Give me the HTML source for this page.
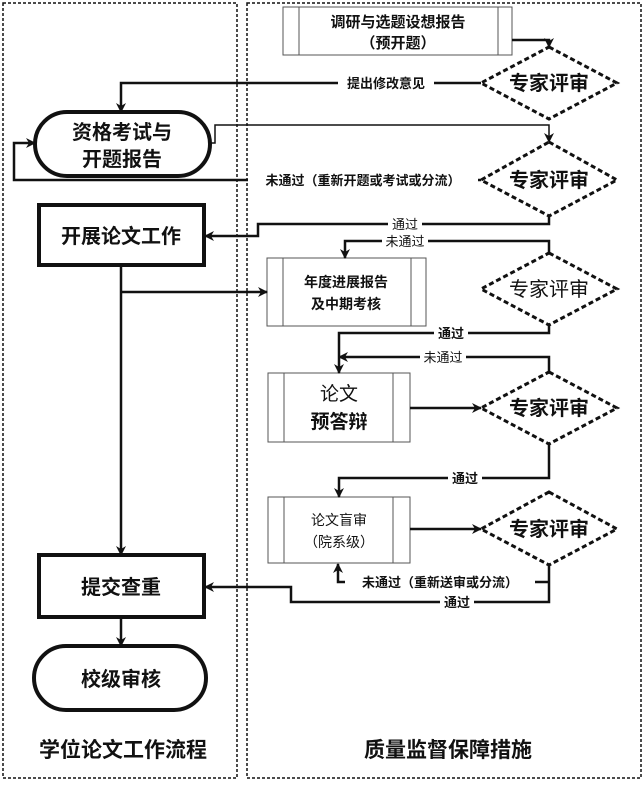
<!DOCTYPE html>
<html><head><meta charset="utf-8"><style>
body{margin:0;background:#fff}
text{font-family:"Liberation Sans","Noto Sans CJK SC",sans-serif;fill:#111}
</style></head><body>
<svg width="644" height="782" viewBox="0 0 644 782" xmlns="http://www.w3.org/2000/svg">
<defs><marker id="a" markerWidth="10" markerHeight="10" refX="9" refY="5" orient="auto" markerUnits="userSpaceOnUse"><path d="M0,0 L10,5 L0,10 L3,5 z" fill="#111"/></marker></defs>
<rect x="3" y="3" width="234" height="775" fill="none" stroke="#111" stroke-width="1.5" stroke-dasharray="3,2"/>
<rect x="247" y="3" width="394" height="775" fill="none" stroke="#111" stroke-width="1.5" stroke-dasharray="3,2"/>
<g fill="none" stroke="#111" stroke-width="3" stroke-dasharray="5,3">
<polygon points="549,47 617,83 549,119 481,83"/>
<polygon points="549,142 617,180 549,216 481,180"/>
<polygon points="549,253 617,289 549,325 481,289"/>
<polygon points="549,372 617,408 549,444 481,408"/>
<polygon points="549,492 617,529 549,565 481,529"/>
</g>
<g font-size="20" font-weight="bold" text-anchor="middle">
<text x="549" y="90">专家评审</text><text x="549" y="187">专家评审</text><text x="549" y="296" font-weight="normal">专家评审</text><text x="549" y="415">专家评审</text><text x="549" y="536">专家评审</text>
</g>
<g fill="#fff" stroke="#555" stroke-width="1">
<rect x="283" y="7" width="229" height="48"/><line x1="299" y1="7" x2="299" y2="55"/><line x1="498" y1="7" x2="498" y2="55"/>
<rect x="267" y="258" width="159" height="68"/><line x1="283" y1="258" x2="283" y2="326"/><line x1="411" y1="258" x2="411" y2="326"/>
<rect x="268" y="373" width="142" height="69"/><line x1="284" y1="373" x2="284" y2="442"/><line x1="393" y1="373" x2="393" y2="442"/>
<rect x="268" y="497" width="142" height="66"/><line x1="284" y1="497" x2="284" y2="563"/><line x1="393" y1="497" x2="393" y2="563"/>
</g>
<g text-anchor="middle" font-weight="bold">
<text x="398" y="27" font-size="15">调研与选题设想报告</text><text x="398" y="48" font-size="15">（预开题）</text>
<text x="346" y="287" font-size="14">年度进展报告</text><text x="346" y="309" font-size="14">及中期考核</text>
<text x="339" y="400" font-size="19" font-weight="normal">论文</text><text x="339" y="428" font-size="19">预答辩</text>
<text x="339" y="525" font-size="14" font-weight="normal">论文盲审</text><text x="339" y="547" font-size="14" font-weight="normal">（院系级）</text>
</g>
<g fill="#fff" stroke="#111" stroke-width="4">
<rect x="35" y="112" width="175" height="64" rx="32"/>
<rect x="39" y="205" width="165" height="60"/>
<rect x="39" y="555" width="165" height="62"/>
<rect x="34" y="646" width="172" height="64" rx="32"/>
</g>
<g text-anchor="middle" font-size="20" font-weight="bold">
<text x="122" y="139">资格考试与</text><text x="122" y="166">开题报告</text>
<text x="121" y="243">开展论文工作</text><text x="121" y="594">提交查重</text><text x="121" y="686">校级审核</text>
</g>
<g fill="none" stroke="#111" stroke-width="2.5" marker-end="url(#a)">
<polyline points="512,40 549,40 549,47"/>
<polyline points="481,83 121,83 121,112"/>
<polyline points="210,143 215,143 215,125 549,125 549,142" stroke-width="1.5"/>
<polyline points="481,180 14,180 14,143 35,143"/>
<polyline points="549,216 549,224 258,224 258,236 205,236"/>
<polyline points="549,253 549,241 345,241 345,258"/>
<polyline points="121,265 121,555"/>
<polyline points="121,292 267,292"/>
<polyline points="549,325 549,333 339,333 339,373"/>
<polyline points="549,372 549,357 339,357"/>
<polyline points="410,408 481,408"/>
<polyline points="549,444 549,478 339,478 339,497"/>
<polyline points="410,529 481,529"/>
<polyline points="549,565 549,602 291,602 291,587 205,587"/>
<polyline points="549,582 338,582 338,564"/>
<polyline points="121,617 121,646"/>
</g>
<g font-size="13" text-anchor="middle" font-weight="bold">
<rect x="338" y="75" width="96" height="16" fill="#fff"/><text x="386" y="88">提出修改意见</text>
<rect x="248" y="172" width="230" height="16" fill="#fff"/><text x="363" y="185">未通过（重新开题或考试或分流）</text>
<rect x="388" y="217" width="34" height="14" fill="#fff"/><text x="405" y="229" font-weight="normal">通过</text>
<rect x="382" y="234" width="46" height="14" fill="#fff"/><text x="405" y="246" font-weight="normal">未通过</text>
<rect x="434" y="326" width="34" height="14" fill="#fff"/><text x="451" y="338">通过</text>
<rect x="420" y="350" width="46" height="14" fill="#fff"/><text x="443" y="362" font-weight="normal">未通过</text>
<rect x="448" y="471" width="34" height="14" fill="#fff"/><text x="465" y="483">通过</text>
<rect x="345" y="575" width="190" height="15" fill="#fff"/><text x="440" y="587">未通过（重新送审或分流）</text>
<rect x="440" y="595" width="34" height="14" fill="#fff"/><text x="457" y="607">通过</text>
</g>
<g font-size="21" font-weight="bold" text-anchor="middle">
<text x="123" y="757">学位论文工作流程</text><text x="448" y="757">质量监督保障措施</text>
</g>
</svg>
</body></html>
